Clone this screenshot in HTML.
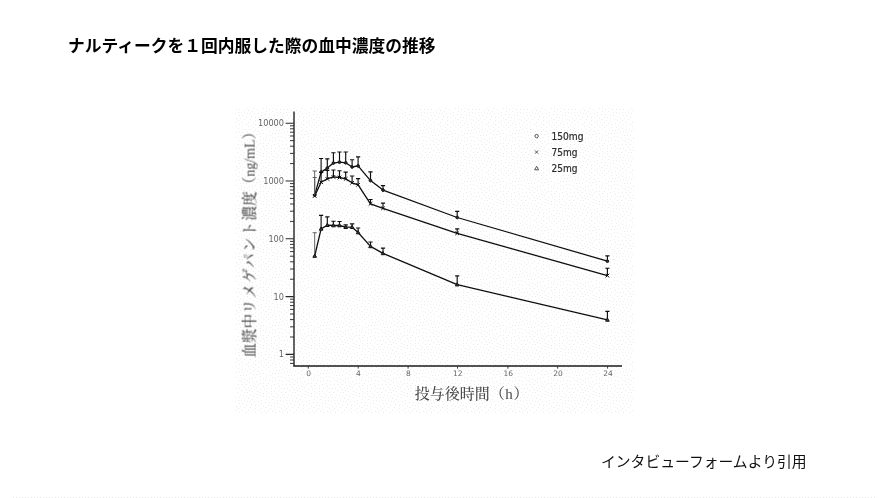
<!DOCTYPE html>
<html lang="ja">
<head>
<meta charset="utf-8">
<title>ナルティークを１回内服した際の血中濃度の推移</title>
<style>
html,body{margin:0;padding:0;background:#fff;}
body{width:886px;height:498px;position:relative;overflow:hidden;font-family:"Liberation Sans","Noto Sans CJK JP",sans-serif;color:#000;}
.title{position:absolute;left:68px;top:34px;margin:0;font-size:16.75px;line-height:26px;font-weight:700;white-space:nowrap;letter-spacing:0px;}
.cite{position:absolute;left:601px;top:449.5px;margin:0;font-size:14.8px;line-height:24px;font-weight:400;white-space:nowrap;color:#111;}
svg{position:absolute;left:0;top:0;}
.tk{font-family:"DejaVu Sans","Liberation Sans",sans-serif;font-size:8px;fill:#666;}
.lg{font-family:"DejaVu Sans","Liberation Sans",sans-serif;font-size:9.6px;fill:#2a2a2a;stroke:#2a2a2a;stroke-width:0.2px;}
.ax{font-family:"Liberation Serif","Noto Serif CJK JP","Noto Serif CJK SC",serif;fill:#4a4a4a;font-weight:500;}
</style>
</head>
<body>
<h1 class="title">ナルティークを１回内服した際の血中濃度の推移</h1>
<svg width="886" height="498" viewBox="0 0 886 498">
<defs>
<pattern id="dz" x="235" y="108" width="48" height="48" patternUnits="userSpaceOnUse">
<path d="M0 5h1v1h-1zM1 1h1v1h-1zM1 10h1v1h-1zM1 14h1v1h-1zM1 18h1v1h-1zM1 24h1v1h-1zM1 29h1v1h-1zM1 40h1v1h-1zM2 44h1v1h-1zM3 4h1v1h-1zM3 12h1v1h-1zM3 20h1v1h-1zM3 32h1v1h-1zM3 36h1v1h-1zM4 1h1v1h-1zM4 7h1v1h-1zM4 16h1v1h-1zM4 23h1v1h-1zM4 40h1v1h-1zM5 10h1v1h-1zM5 27h1v1h-1zM5 46h1v1h-1zM6 4h1v1h-1zM6 30h1v1h-1zM6 33h1v1h-1zM6 42h1v1h-1zM7 7h1v1h-1zM7 14h1v1h-1zM7 18h1v1h-1zM7 21h1v1h-1zM7 24h1v1h-1zM7 36h1v1h-1zM8 2h1v1h-1zM8 27h1v1h-1zM8 47h1v1h-1zM9 5h1v1h-1zM9 11h1v1h-1zM9 31h1v1h-1zM9 34h1v1h-1zM9 39h1v1h-1zM9 44h1v1h-1zM10 21h1v1h-1zM11 0h1v1h-1zM11 9h1v1h-1zM11 16h1v1h-1zM11 27h1v1h-1zM11 36h1v1h-1zM11 41h1v1h-1zM12 5h1v1h-1zM12 23h1v1h-1zM12 32h1v1h-1zM12 44h1v1h-1zM13 2h1v1h-1zM13 14h1v1h-1zM13 18h1v1h-1zM13 39h1v1h-1zM14 21h1v1h-1zM14 30h1v1h-1zM14 34h1v1h-1zM14 42h1v1h-1zM15 5h1v1h-1zM15 11h1v1h-1zM15 25h1v1h-1zM15 37h1v1h-1zM15 46h1v1h-1zM16 8h1v1h-1zM16 17h1v1h-1zM16 40h1v1h-1zM17 3h1v1h-1zM17 30h1v1h-1zM17 33h1v1h-1zM17 43h1v1h-1zM18 0h1v1h-1zM18 14h1v1h-1zM18 19h1v1h-1zM18 23h1v1h-1zM18 26h1v1h-1zM18 38h1v1h-1zM19 5h1v1h-1zM19 35h1v1h-1zM19 41h1v1h-1zM19 45h1v1h-1zM20 9h1v1h-1zM20 12h1v1h-1zM20 16h1v1h-1zM20 21h1v1h-1zM20 29h1v1h-1zM21 26h1v1h-1zM21 33h1v1h-1zM21 39h1v1h-1zM22 1h1v1h-1zM22 43h1v1h-1zM22 46h1v1h-1zM23 5h1v1h-1zM23 19h1v1h-1zM23 23h1v1h-1zM23 37h1v1h-1zM24 9h1v1h-1zM24 14h1v1h-1zM25 25h1v1h-1zM25 28h1v1h-1zM25 31h1v1h-1zM25 35h1v1h-1zM25 41h1v1h-1zM25 44h1v1h-1zM25 47h1v1h-1zM26 4h1v1h-1zM26 7h1v1h-1zM26 12h1v1h-1zM26 16h1v1h-1zM26 22h1v1h-1zM28 0h1v1h-1zM28 10h1v1h-1zM28 18h1v1h-1zM28 25h1v1h-1zM28 30h1v1h-1zM28 35h1v1h-1zM28 38h1v1h-1zM28 45h1v1h-1zM29 14h1v1h-1zM29 41h1v1h-1zM30 6h1v1h-1zM30 32h1v1h-1zM31 0h1v1h-1zM31 3h1v1h-1zM31 11h1v1h-1zM31 16h1v1h-1zM31 21h1v1h-1zM31 29h1v1h-1zM31 37h1v1h-1zM31 43h1v1h-1zM32 26h1v1h-1zM32 40h1v1h-1zM33 9h1v1h-1zM33 14h1v1h-1zM33 19h1v1h-1zM33 35h1v1h-1zM33 45h1v1h-1zM34 1h1v1h-1zM34 6h1v1h-1zM34 23h1v1h-1zM34 32h1v1h-1zM35 12h1v1h-1zM35 17h1v1h-1zM35 27h1v1h-1zM36 9h1v1h-1zM36 37h1v1h-1zM36 40h1v1h-1zM36 43h1v1h-1zM36 46h1v1h-1zM37 3h1v1h-1zM37 15h1v1h-1zM37 25h1v1h-1zM37 29h1v1h-1zM37 33h1v1h-1zM38 0h1v1h-1zM38 21h1v1h-1zM39 7h1v1h-1zM39 10h1v1h-1zM39 13h1v1h-1zM39 36h1v1h-1zM39 43h1v1h-1zM40 16h1v1h-1zM40 19h1v1h-1zM40 25h1v1h-1zM40 29h1v1h-1zM40 32h1v1h-1zM40 40h1v1h-1zM41 1h1v1h-1zM41 22h1v1h-1zM41 45h1v1h-1zM42 4h1v1h-1zM42 7h1v1h-1zM43 11h1v1h-1zM43 25h1v1h-1zM43 28h1v1h-1zM43 35h1v1h-1zM43 47h1v1h-1zM44 15h1v1h-1zM44 22h1v1h-1zM44 32h1v1h-1zM44 38h1v1h-1zM44 42h1v1h-1zM45 1h1v1h-1zM45 4h1v1h-1zM45 19h1v1h-1zM46 12h1v1h-1zM46 25h1v1h-1zM46 28h1v1h-1zM46 40h1v1h-1zM46 44h1v1h-1zM47 8h1v1h-1zM47 16h1v1h-1zM47 21h1v1h-1zM47 33h1v1h-1zM47 36h1v1h-1zM47 47h1v1h-1z" fill="#ececec" shape-rendering="crispEdges"/>
</pattern>
<pattern id="bl" x="13" y="497" width="3" height="1" patternUnits="userSpaceOnUse">
<rect x="0" y="0" width="1" height="1" fill="#e8e8e8"/>
</pattern>
<filter id="bf" x="-5%" y="-5%" width="110%" height="110%"><feGaussianBlur stdDeviation="0.55"/></filter>
<filter id="tf" x="-5%" y="-5%" width="110%" height="110%"><feGaussianBlur stdDeviation="0.35"/></filter>
</defs>
<rect x="235" y="108" width="399" height="305" fill="url(#dz)"/>
<rect x="13" y="497" width="862" height="1" fill="url(#bl)"/>
<g filter="url(#bf)">
<path d="M294.0 111.4V366.8M293.2 366.0H622" stroke="#1a1a1a" stroke-width="1.35" fill="none"/>
<text x="284" y="357.4" text-anchor="end" class="tk" filter="url(#tf)" textLength="5.2" lengthAdjust="spacingAndGlyphs">1</text>
<text x="284" y="299.6" text-anchor="end" class="tk" filter="url(#tf)" textLength="10.4" lengthAdjust="spacingAndGlyphs">10</text>
<text x="284" y="241.8" text-anchor="end" class="tk" filter="url(#tf)" textLength="15.6" lengthAdjust="spacingAndGlyphs">100</text>
<text x="284" y="184.0" text-anchor="end" class="tk" filter="url(#tf)" textLength="20.8" lengthAdjust="spacingAndGlyphs">1000</text>
<text x="284" y="126.2" text-anchor="end" class="tk" filter="url(#tf)" textLength="26.0" lengthAdjust="spacingAndGlyphs">10000</text>
<text x="308.6" y="376.4" text-anchor="middle" class="tk" filter="url(#tf)" style="font-size:7.5px;fill:#666">0</text>
<text x="358.5" y="376.4" text-anchor="middle" class="tk" filter="url(#tf)" style="font-size:7.5px;fill:#666">4</text>
<text x="408.4" y="376.4" text-anchor="middle" class="tk" filter="url(#tf)" style="font-size:7.5px;fill:#666">8</text>
<text x="457.8" y="376.4" text-anchor="middle" class="tk" filter="url(#tf)" style="font-size:7.5px;fill:#666">12</text>
<text x="508.2" y="376.4" text-anchor="middle" class="tk" filter="url(#tf)" style="font-size:7.5px;fill:#666">16</text>
<text x="558.0" y="376.4" text-anchor="middle" class="tk" filter="url(#tf)" style="font-size:7.5px;fill:#666">20</text>
<text x="607.9" y="376.4" text-anchor="middle" class="tk" filter="url(#tf)" style="font-size:7.5px;fill:#666">24</text>
<path d="M285.6 354.4H294.0M285.6 296.6H294.0M285.6 238.8H294.0M285.6 181.0H294.0M285.6 123.2H294.0" stroke="#2a2a2a" stroke-width="1.1" fill="none"/>
<path d="M290 337.0H294.0M290 326.8H294.0M290 319.6H294.0M290 314.0H294.0M290 309.4H294.0M290 305.6H294.0M290 302.2H294.0M290 299.2H294.0M290 279.2H294.0M290 269.0H294.0M290 261.8H294.0M290 256.2H294.0M290 251.6H294.0M290 247.8H294.0M290 244.4H294.0M290 241.4H294.0M290 221.4H294.0M290 211.2H294.0M290 204.0H294.0M290 198.4H294.0M290 193.8H294.0M290 190.0H294.0M290 186.6H294.0M290 183.6H294.0M290 163.6H294.0M290 153.4H294.0M290 146.2H294.0M290 140.6H294.0M290 136.0H294.0M290 132.2H294.0M290 128.8H294.0M290 125.8H294.0M290 363.4H294.0M290 360.0H294.0M290 357.0H294.0" stroke="#2a2a2a" stroke-width="0.95" fill="none"/>
<path d="M308.3 366.0V368.6M358.2 366.0V368.6M408.1 366.0V368.6M457.5 366.0V368.6M507.9 366.0V368.6M557.7 366.0V368.6M607.6 366.0V368.6" stroke="#3a3a3a" stroke-width="1" fill="none"/>
<polyline points="314.7,195.2 321.1,172.1 327.3,168.1 333.4,163.1 339.5,162.2 345.7,162.8 352.1,167.0 358.1,165.9 370.5,180.6 383.0,190.1 457.2,217.5 607.4,261.2" fill="none" stroke="#111" stroke-width="1.3" stroke-linejoin="round"/>
<path d="M314.7 195.2V171.0M312.6 171.0H316.8" stroke="#555" stroke-width="0.9" fill="none"/>
<path d="M321.1 172.1V158.5M319.0 158.5H323.2M327.3 168.1V158.8M325.2 158.8H329.4M333.4 163.1V152.7M331.3 152.7H335.5M339.5 162.2V152.0M337.4 152.0H341.6M345.7 162.8V152.0M343.6 152.0H347.8M352.1 167.0V159.7M350.0 159.7H354.2M358.1 165.9V156.9M356.0 156.9H360.2M370.5 180.6V171.9M368.4 171.9H372.6M383.0 190.1V185.6M380.9 185.6H385.1M457.2 217.5V211.3M455.1 211.3H459.3M607.4 261.2V255.8M605.3 255.8H609.5" stroke="#111" stroke-width="1.15" fill="none"/>
<circle cx="314.7" cy="195.2" r="1.35" fill="#333" stroke="#111" stroke-width="1"/>
<circle cx="321.1" cy="172.1" r="1.35" fill="#333" stroke="#111" stroke-width="1"/>
<circle cx="327.3" cy="168.1" r="1.35" fill="#333" stroke="#111" stroke-width="1"/>
<circle cx="333.4" cy="163.1" r="1.35" fill="#333" stroke="#111" stroke-width="1"/>
<circle cx="339.5" cy="162.2" r="1.35" fill="#333" stroke="#111" stroke-width="1"/>
<circle cx="345.7" cy="162.8" r="1.35" fill="#333" stroke="#111" stroke-width="1"/>
<circle cx="352.1" cy="167.0" r="1.35" fill="#333" stroke="#111" stroke-width="1"/>
<circle cx="358.1" cy="165.9" r="1.35" fill="#333" stroke="#111" stroke-width="1"/>
<circle cx="370.5" cy="180.6" r="1.35" fill="#333" stroke="#111" stroke-width="1"/>
<circle cx="383.0" cy="190.1" r="1.35" fill="#333" stroke="#111" stroke-width="1"/>
<circle cx="457.2" cy="217.5" r="1.35" fill="#333" stroke="#111" stroke-width="1"/>
<circle cx="607.4" cy="261.2" r="1.35" fill="#333" stroke="#111" stroke-width="1"/>
<polyline points="314.7,196.0 321.1,182.2 327.3,178.9 333.4,176.9 339.5,177.5 345.7,178.9 352.1,182.8 358.1,184.8 370.5,203.8 383.0,208.3 457.2,233.3 607.4,275.6" fill="none" stroke="#111" stroke-width="1.3" stroke-linejoin="round"/>
<path d="M314.7 196.0V177.5M312.6 177.5H316.8" stroke="#555" stroke-width="0.9" fill="none"/>
<path d="M321.1 182.2V172.5M319.0 172.5H323.2M327.3 178.9V170.4M325.2 170.4H329.4M333.4 176.9V170.0M331.3 170.0H335.5M339.5 177.5V170.7M337.4 170.7H341.6M345.7 178.9V172.1M343.6 172.1H347.8M352.1 182.8V176.0M350.0 176.0H354.2M358.1 184.8V178.6M356.0 178.6H360.2M370.5 203.8V199.5M368.4 199.5H372.6M383.0 208.3V203.1M380.9 203.1H385.1M457.2 233.3V228.8M455.1 228.8H459.3M607.4 275.6V268.2M605.3 268.2H609.5" stroke="#111" stroke-width="1.15" fill="none"/>
<path d="M312.9 194.2L316.5 197.8M312.9 197.8L316.5 194.2" stroke="#111" stroke-width="1"/>
<path d="M319.3 180.4L322.9 184.0M319.3 184.0L322.9 180.4" stroke="#111" stroke-width="1"/>
<path d="M325.5 177.1L329.1 180.7M325.5 180.7L329.1 177.1" stroke="#111" stroke-width="1"/>
<path d="M331.6 175.1L335.2 178.7M331.6 178.7L335.2 175.1" stroke="#111" stroke-width="1"/>
<path d="M337.7 175.7L341.3 179.3M337.7 179.3L341.3 175.7" stroke="#111" stroke-width="1"/>
<path d="M343.9 177.1L347.5 180.7M343.9 180.7L347.5 177.1" stroke="#111" stroke-width="1"/>
<path d="M350.3 181.0L353.9 184.6M350.3 184.6L353.9 181.0" stroke="#111" stroke-width="1"/>
<path d="M356.3 183.0L359.9 186.6M356.3 186.6L359.9 183.0" stroke="#111" stroke-width="1"/>
<path d="M368.7 202.0L372.3 205.6M368.7 205.6L372.3 202.0" stroke="#111" stroke-width="1"/>
<path d="M381.2 206.5L384.8 210.1M381.2 210.1L384.8 206.5" stroke="#111" stroke-width="1"/>
<path d="M455.4 231.5L459.0 235.1M455.4 235.1L459.0 231.5" stroke="#111" stroke-width="1"/>
<path d="M605.6 273.8L609.2 277.4M605.6 277.4L609.2 273.8" stroke="#111" stroke-width="1"/>
<polyline points="314.7,256.0 321.1,228.9 327.3,225.2 333.4,225.5 339.5,225.5 345.7,227.2 352.1,227.2 358.1,232.5 370.5,246.4 383.0,253.4 457.2,284.6 607.4,319.9" fill="none" stroke="#111" stroke-width="1.3" stroke-linejoin="round"/>
<path d="M314.7 256.0V232.7M312.6 232.7H316.8" stroke="#555" stroke-width="0.9" fill="none"/>
<path d="M321.1 228.9V215.3M319.0 215.3H323.2M327.3 225.2V216.8M325.2 216.8H329.4M333.4 225.5V221.2M331.3 221.2H335.5M339.5 225.5V221.5M337.4 221.5H341.6M345.7 227.2V224.9M343.6 224.9H347.8M352.1 227.2V223.8M350.0 223.8H354.2M358.1 232.5V228.0M356.0 228.0H360.2M370.5 246.4V242.0M368.4 242.0H372.6M383.0 253.4V248.1M380.9 248.1H385.1M457.2 284.6V275.8M455.1 275.8H459.3M607.4 319.9V311.4M605.3 311.4H609.5" stroke="#111" stroke-width="1.15" fill="none"/>
<path d="M314.7 254.1L316.5 257.3H312.9Z" fill="#444" stroke="#111" stroke-width="1"/>
<path d="M321.1 227.0L322.9 230.2H319.3Z" fill="#444" stroke="#111" stroke-width="1"/>
<path d="M327.3 223.3L329.1 226.5H325.5Z" fill="#444" stroke="#111" stroke-width="1"/>
<path d="M333.4 223.6L335.2 226.8H331.6Z" fill="#444" stroke="#111" stroke-width="1"/>
<path d="M339.5 223.6L341.3 226.8H337.7Z" fill="#444" stroke="#111" stroke-width="1"/>
<path d="M345.7 225.3L347.5 228.5H343.9Z" fill="#444" stroke="#111" stroke-width="1"/>
<path d="M352.1 225.3L353.9 228.5H350.3Z" fill="#444" stroke="#111" stroke-width="1"/>
<path d="M358.1 230.6L359.9 233.8H356.3Z" fill="#444" stroke="#111" stroke-width="1"/>
<path d="M370.5 244.5L372.3 247.7H368.7Z" fill="#444" stroke="#111" stroke-width="1"/>
<path d="M383.0 251.5L384.8 254.7H381.2Z" fill="#444" stroke="#111" stroke-width="1"/>
<path d="M457.2 282.7L459.0 285.9H455.4Z" fill="#444" stroke="#111" stroke-width="1"/>
<path d="M607.4 318.0L609.2 321.2H605.6Z" fill="#444" stroke="#111" stroke-width="1"/>
<circle cx="536.6" cy="136.1" r="1.7" fill="none" stroke="#444" stroke-width="0.9"/>
<path d="M535 150.5L538.2 153.7M535 153.7L538.2 150.5" stroke="#444" stroke-width="0.9"/>
<path d="M536.6 166.3L538.6 169.8H534.6Z" fill="none" stroke="#444" stroke-width="0.9"/>
<text x="551.5" y="139.6" class="lg" textLength="32" lengthAdjust="spacingAndGlyphs">150mg</text>
<text x="551.5" y="155.8" class="lg" textLength="26" lengthAdjust="spacingAndGlyphs">75mg</text>
<text x="551.5" y="171.8" class="lg" textLength="26" lengthAdjust="spacingAndGlyphs">25mg</text>
<g filter="url(#tf)">
<text x="414.8" y="398.6" class="ax" font-size="15">投与後時間（<tspan dx="0.4">h</tspan><tspan dx="0.8">）</tspan></text>
<text transform="translate(254.6,357.6) rotate(-90)" class="ax" font-size="14.6">血漿中<tspan letter-spacing="1.15">リメゲパント</tspan>濃度（<tspan font-size="14">ng/mL</tspan>）</text>
</g>
</g>
</svg>
<p class="cite">インタビューフォームより引用</p>
</body>
</html>
